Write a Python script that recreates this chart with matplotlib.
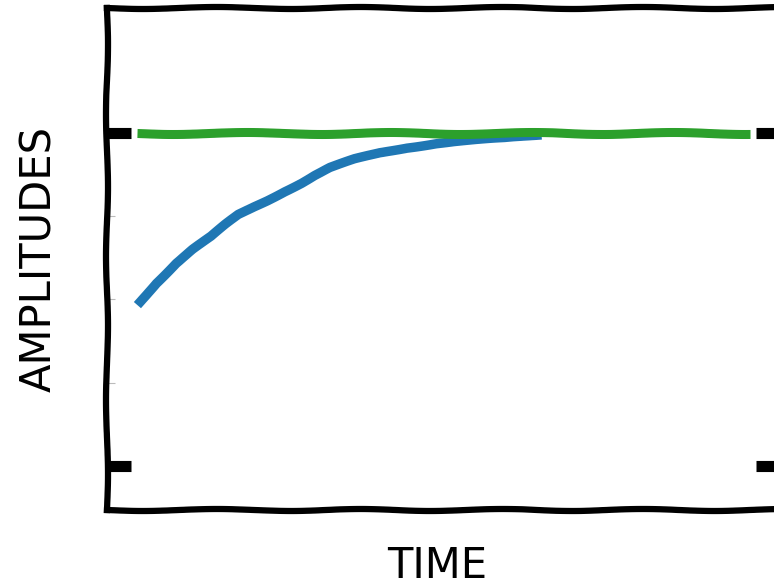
import matplotlib
matplotlib.use("Agg")
import matplotlib.pyplot as plt

# data
time_blue = [0.0, 0.3, 0.63, 0.9, 1.21, 1.45, 1.65, 1.9, 2.13, 2.4, 2.67, 2.9,
             3.15, 3.55, 3.96, 4.4, 4.88, 5.2, 5.57, 6.0, 6.3, 6.6]
amp_blue = [0.483, 0.550, 0.610, 0.650, 0.688, 0.725, 0.754, 0.778, 0.799, 0.826, 0.850, 0.873,
            0.895, 0.920, 0.940, 0.957, 0.970, 0.975, 0.979, 0.984, 0.990, 0.996]
time_green = [0.0, 10.0]
amp_green = [1.0, 1.0]
major_yticks = [0, 1]
minor_yticks = [0.25, 0.5, 0.75]

with plt.xkcd(scale=1, length=150, randomness=1.5):
    plt.rcParams["font.family"] = ["DejaVu Sans"]
    plt.rcParams["path.effects"] = []

    fig = plt.figure(figsize=(7.74, 5.88), dpi=100)
    ax = fig.add_axes([0.138, 0.133, 0.87, 0.853])

    ax.plot(time_blue, amp_blue, color="#1f77b4", lw=6.8, solid_capstyle="butt")
    ax.plot(time_green, amp_green, color="#2ca02c", lw=6.5, solid_capstyle="butt")

    ax.set_xlim(-0.5, 10.5)
    ax.set_ylim(-0.132, 1.375)

    ax.set_xticks([])
    ax.set_yticks(major_yticks)
    ax.set_yticks(minor_yticks, minor=True)
    ax.set_yticklabels([])
    ax.tick_params(axis="y", which="major", direction="in", length=17, width=8,
                   left=True, right=True)
    ax.tick_params(axis="y", which="minor", direction="in", length=6, width=0.8,
                   left=True, right=False, color="#bbbbbb")

    for s in ax.spines.values():
        s.set_linewidth(4.5)

    ax.set_xlabel("TIME", fontsize=30, va="center")
    ax.set_ylabel("AMPLITUDES", fontsize=30, va="center", ha="center")
    ax.xaxis.set_label_coords(0.49, -0.112)
    ax.yaxis.set_label_coords(-0.1, 0.5)

    fig.savefig("out.png", dpi=100)
